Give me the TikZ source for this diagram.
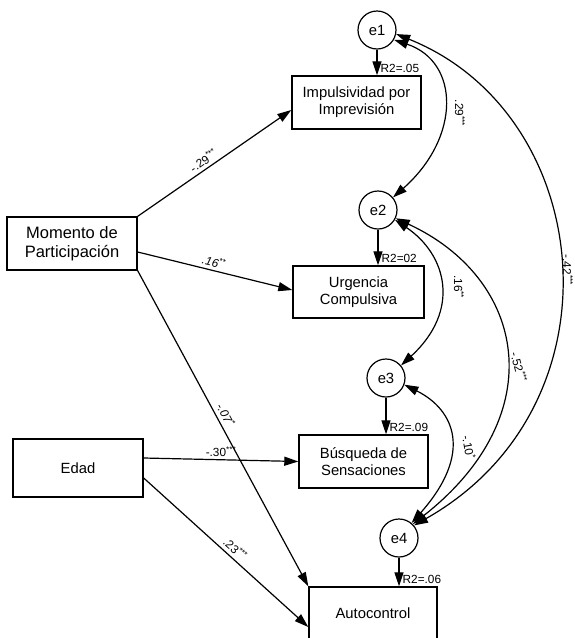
\documentclass[tikz,border=0pt]{standalone}
\usepackage{fontspec}
\setmainfont{Liberation Sans}
\usetikzlibrary{arrows.meta,calc}
\begin{document}
\begin{tikzpicture}[x=1pt,y=-1pt,
  box/.style={draw, line width=1.4pt, minimum width=130pt, minimum height=53pt, align=center, font=\fontsize{14.8}{17}\selectfont, inner sep=0pt},
  err/.style={circle, draw, line width=1.2pt, minimum size=38pt, inner sep=0pt, font=\fontsize{14.8}{17}\selectfont},
  arr/.style={line width=1.2pt, -{Triangle[length=14pt,width=9pt]}},
  cov/.style={line width=1.2pt, {Triangle[length=14pt,width=9pt]}-{Triangle[length=14pt,width=9pt]}},
  lab/.style={font=\fontsize{11.8}{13}\selectfont, inner sep=1.5pt},
]
\useasboundingbox (0,0) rectangle (574,638);
\clip (0,0) rectangle (574,638);
% boxes
\node[box, minimum width=129pt] (imp) at (356.5,102.5) {Impulsividad por\\Imprevisión};
\node[box, minimum width=131pt, minimum height=52pt] (urg) at (358.5,292) {Urgencia\\Compulsiva};
\node[box, minimum width=129pt] (bus) at (363.5,461.5) {Búsqueda de\\Sensaciones};
\node[box, minimum width=128pt] (auto) at (373,613.5) {Autocontrol};
\node[box, font=\fontsize{16.5}{19}\selectfont] (mom) at (72,243.5) {Momento de\\Participación};
\node[box, minimum height=58pt] (edad) at (78,468) {Edad};
% errors
\node[err] (e1) at (377,30) {e1};
\node[err] (e2) at (378,210) {e2};
\node[err] (e3) at (386,378) {e3};
\node[err] (e4) at (399,538) {e4};
% error arrows
\draw[arr] (e1.south) -- (e1.south |- imp.north);
\draw[arr] (e2.south) -- (e2.south |- urg.north);
\draw[arr] (e3.south) -- (e3.south |- bus.north);
\draw[arr] (e4.south) -- (e4.south |- auto.north);
\node[lab, anchor=south west] (r1) at ($(e1.south |- imp.north)+(2,-1)$) {R2=.05};
\node[lab, anchor=south west] (r2) at ($(e2.south |- urg.north)+(2,-1)$) {R2=02};
\node[lab, anchor=south west] (r3) at ($(e3.south |- bus.north)+(2,-1)$) {R2=.09};
\node[lab, anchor=south west] (r4) at ($(e4.south |- auto.north)+(2,-1)$) {R2=.06};
% regression paths
\draw[arr] (mom.north east) -- node[lab, sloped, above=1.5pt, pos=.46] {-.29\textsuperscript{***}} ($(imp.west)+(0,7.5)$);
\draw[arr] ($(mom.east)+(0,8.5)$) -- node[lab, sloped, above=1.5pt, pos=.48] {\itshape .16\textsuperscript{**}} ($(urg.west)+(0,-2)$);
\draw[arr] (mom.south east) -- node[lab, sloped, above=2pt, pos=.47] {\itshape -.07\textsuperscript{*}} (auto.north west);
\draw[arr] ($(edad.east)+(0,-10)$) -- node[lab, above=1pt, pos=.5] {-.30\textsuperscript{***}} (bus.west);
\draw[arr] ($(edad.east)+(0,10)$) -- node[lab, sloped, above=2pt, pos=.52] {.23\textsuperscript{***}} ($(auto.west)+(0,13.5)$);
% covariances
\draw[cov] (e1.-30) .. controls +(66,22) and +(68,-60) .. (e2.40);
\draw[cov] (e1.-12) .. controls +(200,80) and +(212,-120) .. (e4.40);
\draw[cov] (e2.-30) .. controls +(52,35) and +(60,-55) .. (e3.40);
\draw[cov] (e2.-25) .. controls +(130,60) and +(140,-110) .. (e4.45);
\draw[cov] (e3.-20) .. controls +(50,25) and +(62,-70) .. (e4.50);
\node[lab, rotate=-90] (c12) at (460,113) {.29\textsuperscript{***}};
\node[lab, rotate=-90] (c14) at (568,270) {-.42\textsuperscript{***}};
\node[lab, rotate=-90] (c23) at (459,287) {.16\textsuperscript{**}};
\node[lab, rotate=-75] (c24) at (519,367) {-.52\textsuperscript{***}};
\node[lab, rotate=-80] (c34) at (469,447) {-.10\textsuperscript{*}};
\end{tikzpicture}
\end{document}
